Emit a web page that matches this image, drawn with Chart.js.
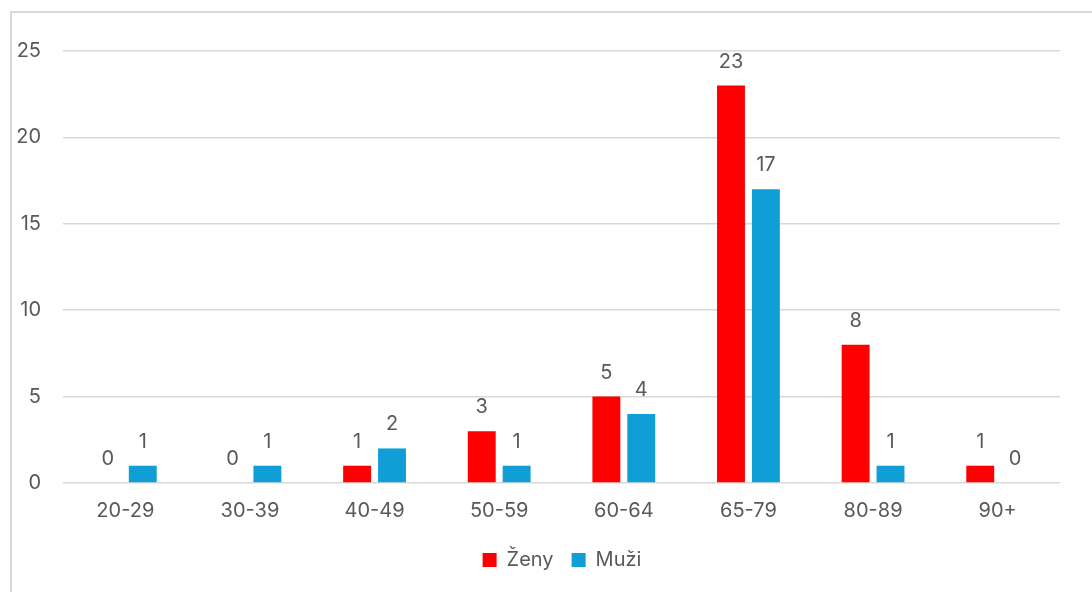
<!DOCTYPE html>
<html>
<head>
<meta charset="utf-8">
<script src="https://cdn.jsdelivr.net/npm/chart.js@4.4.1/dist/chart.umd.min.js"></script>
<style>
  html, body { margin: 0; padding: 0; background: #fff; overflow: hidden; }
  #frame { position: absolute; left: 10px; top: 11px; width: 1200px; height: 700px; border: 2px solid #d9d9d9; box-sizing: border-box; }
  #wrap { position: absolute; left: 0; top: 0; width: 1092px; height: 592px; }
</style>
</head>
<body>
<div id="frame"></div>
<div id="wrap"><canvas id="chart"></canvas></div>
<script>
const categories = ['20-29', '30-39', '40-49', '50-59', '60-64', '65-79', '80-89', '90+'];
const zeny = [0, 0, 1, 3, 5, 23, 8, 1];
const muzi = [1, 1, 2, 1, 4, 17, 1, 0];
const seriesNames = ['Ženy', 'Muži'];

const FONT = 'Inter, "Open Sans", "Liberation Sans", sans-serif';
const TEXT = '#595959';
const SIZE = 20;

// value labels above each bar
const barLabels = {
  id: 'barLabels',
  afterDatasetsDraw(chart) {
    const ctx = chart.ctx;
    ctx.save();
    ctx.font = SIZE + 'px ' + FONT;
    ctx.fillStyle = TEXT;
    ctx.textAlign = 'center';
    ctx.textBaseline = 'alphabetic';
    chart.data.datasets.forEach((ds, i) => {
      chart.getDatasetMeta(i).data.forEach((bar, j) => {
        ctx.fillText(String(ds.data[j]), bar.x, bar.y - 18);
      });
    });
    ctx.restore();
  }
};

// the original legend sits a bit right of the plot centre
const legendShift = {
  id: 'legendShift',
  afterLayout(chart) {
    if (chart.legend) {
      chart.legend.left += 26;
      chart.legend.right += 26;
    }
  }
};

new Chart(document.getElementById('chart'), {
  type: 'bar',
  data: {
    labels: categories,
    datasets: [
      { label: seriesNames[0], data: zeny, backgroundColor: '#FF0000' },
      { label: seriesNames[1], data: muzi, backgroundColor: '#0F9ED5' }
    ]
  },
  options: {
    responsive: true,
    maintainAspectRatio: false,
    animation: false,
    events: [],
    datasets: { bar: { barPercentage: 0.8, categoryPercentage: 0.56 } },
    layout: { padding: { left: 12, right: 32, top: 51, bottom: 12 } },
    plugins: {
      legend: {
        position: 'bottom',
        labels: {
          font: { family: FONT, size: SIZE },
          color: TEXT,
          boxWidth: 14,
          boxHeight: 14,
          padding: 18
        }
      },
      tooltip: { enabled: false }
    },
    scales: {
      x: {
        grid: { display: false, drawTicks: false },
        border: { display: false },
        ticks: { font: { family: FONT, size: SIZE }, color: TEXT, padding: 16 },
        afterFit(scale) { scale.height = 49; }
      },
      y: {
        min: 0,
        max: 25,
        ticks: { stepSize: 5, font: { family: FONT, size: SIZE }, color: TEXT, padding: 22 },
        grid: { color: '#d9d9d9', lineWidth: 1.5, drawTicks: false },
        border: { display: false },
        afterFit(scale) { scale.width = 51; }
      }
    }
  },
  plugins: [barLabels, legendShift]
});
</script>
</body>
</html>
